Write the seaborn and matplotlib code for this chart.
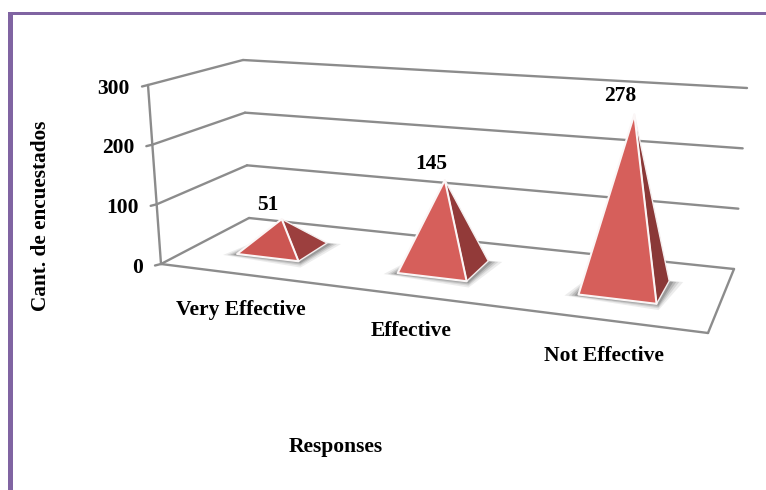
import numpy as np
import pandas as pd
import seaborn as sns
import matplotlib
matplotlib.use("Agg")
import matplotlib.pyplot as plt

# Chart content
categories = ["Very Effective", "Effective", "Not Effective"]
responses = [51, 145, 278]
height_ticks = [0, 100, 200, 300]
y_title = "Cant. de encuestados"
x_title = "Responses"

HEIGHT_MAX = 300
FLOOR = np.array([[161, 264], [708, 333], [734, 269], [249, 218]], float)  # front-left, front-right, back-right, back-left
LEAN = np.array([[-13, -179], [16, -200], [13, -181], [-6, -158]], float)  # top of the wall relative to the floor


def floor_homography(corners):
    unit = [(0, 0), (1, 0), (1, 1), (0, 1)]
    rows, rhs = [], []
    for (u, v), (x, y) in zip(unit, corners):
        rows.append([u, v, 1, 0, 0, 0, -u * x, -v * x])
        rows.append([0, 0, 0, u, v, 1, -u * y, -v * y])
        rhs += [x, y]
    return np.append(np.linalg.solve(np.array(rows), np.array(rhs)), 1).reshape(3, 3)


H = floor_homography(FLOOR)


def project(u, v, h=0.0):
    """Map chart space (category axis u, depth v, value h) onto the canvas."""
    p = H @ np.array([u, v, 1.0])
    base = p[:2] / p[2]
    weights = [(1 - u) * (1 - v), u * (1 - v), u * v, (1 - u) * v]
    lean = np.dot(weights, LEAN)
    return base + lean * h / HEIGHT_MAX


sns.set_theme(style="white")
plt.rcParams["font.family"] = ["Liberation Serif", "DejaVu Serif"]
fig = plt.figure(figsize=(7.66, 4.9), dpi=100, facecolor="white")
ax = fig.add_axes([0, 0, 1, 1])
ax.set_xlim(0, 766)
ax.set_ylim(490, 0)
ax.axis("off")

# Frame: one band across the top, one down the left side
frame = "#8064A2"
ax.fill([8, 766, 766, 8], [12, 12, 15.5, 15.5], color=frame, lw=0)
ax.fill([8, 13, 13, 8], [12, 12, 490, 490], color=frame, lw=0)

# Walls and floor outline as one long-form table of line segments
segments = []


def add_segment(name, a, b):
    segments.append({"edge": name, "px": a[0], "py": a[1], "step": 0})
    segments.append({"edge": name, "px": b[0], "py": b[1], "step": 1})


for t in height_ticks:
    add_segment(f"left{t}", project(0, 0, t), project(0, 1, t))
    add_segment(f"back{t}", project(0, 1, t), project(1, 1, t))
    start = project(0, 0, t)
    add_segment(f"tick{t}", start, start + np.array([-6, 1.5]))
add_segment("axis", project(0, 0, 0), project(0, 0, HEIGHT_MAX))
add_segment("front", project(0, 0), project(1, 0))
add_segment("side", project(1, 0), project(1, 1))

sns.lineplot(data=pd.DataFrame(segments), x="px", y="py", units="edge", estimator=None,
             sort=False, color="#8c8c8c", lw=1.7, legend=False, ax=ax, zorder=2)
ax.set_xlabel("")
ax.set_ylabel("")

# Pyramids
face_left = ["#CC5652", "#D65F5B", "#D65F5B"]
face_right = ["#9C3F3E", "#923A39", "#8A3837"]
half_u, half_v = 0.066, 0.185

for i, value in enumerate(responses):
    cu = (i + 0.5) / 3 + 0.003
    cv = 0.495
    fl = project(cu - half_u, cv - half_v)
    fr = project(cu + half_u, cv - half_v)
    br = project(cu + half_u, cv + half_v)
    bl = project(cu - half_u, cv + half_v)
    apex = project(cu, cv, value)

    # Soft contact shadow under the base
    for grow, alpha in zip([14, 10, 7, 4], [0.10, 0.14, 0.20, 0.28]):
        outline = np.array([fl + [-grow, 1], fr + [2, grow * 0.45], br + [grow, 1], bl])
        ax.fill(outline[:, 0], outline[:, 1], color="#4d4d4d", alpha=alpha, lw=0, zorder=3)

    ax.fill(*np.array([fr, br, apex]).T, facecolor=face_right[i], edgecolor="#f4eeee", lw=1.0,
            joinstyle="round", zorder=4)
    ax.fill(*np.array([fl, fr, apex]).T, facecolor=face_left[i], edgecolor="#fbf6f6", lw=1.5,
            joinstyle="round", zorder=5)
    ax.text(apex[0] - 14, apex[1] - 13 - 0.02 * value, str(value), ha="center", va="center",
            fontsize=15.5, fontweight="bold", color="black", zorder=6)

# Category labels sit under the front edge, stepping down with it
text_style = dict(fontsize=15.5, fontweight="bold", color="black")
for i, name in enumerate(categories):
    anchor = project((i + 0.5) / 3, 0)
    ax.text(anchor[0] + 2, anchor[1] + 36, name, ha="center", va="center", **text_style)

# Value axis labels
for t in height_ticks:
    pos = project(0, 0, t)
    ax.text(pos[0] - 18, pos[1] + 3.5, str(t), ha="right", va="center", **text_style)

ax.text(41, 216, y_title, rotation=90, ha="center", va="center", fontsize=15.3, fontweight="bold", color="black")
ax.text(336, 447, x_title, ha="center", va="center", **text_style)

fig.savefig("out.png", dpi=100, facecolor="white")
